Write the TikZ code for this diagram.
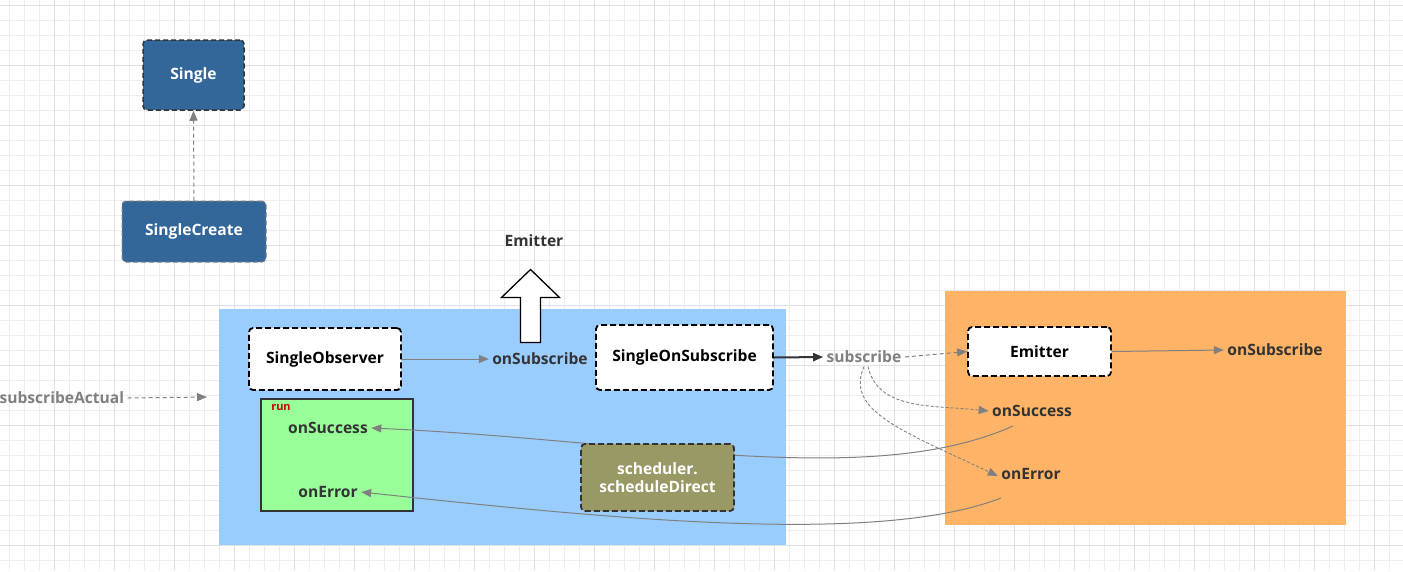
\documentclass[tikz,border=0pt]{standalone}
\usepackage{fontspec}
\setmainfont{Open Sans}
\usetikzlibrary{arrows.meta}
\definecolor{ink}{HTML}{333333}
\definecolor{wire}{HTML}{808080}
\definecolor{steel}{HTML}{336699}
\definecolor{skyfill}{HTML}{99CCFF}
\definecolor{amber}{HTML}{FFB366}
\definecolor{mint}{HTML}{99FF99}
\definecolor{olive}{HTML}{999966}
\definecolor{gridminor}{HTML}{EDEDED}
\definecolor{gridmajor}{HTML}{E0E0E0}
\tikzset{
  tip/.style={-{Triangle[length=10pt,width=8pt]}},
  wirearrow/.style={tip, draw=wire, line width=1pt},
  dashwire/.style={wirearrow, dash pattern=on 4pt off 3pt},
  finewire/.style={tip, draw=wire, line width=0.9pt, dash pattern=on 3pt off 2pt},
  bigtext/.style={font=\bfseries\fontsize{15.6}{18.5}\selectfont},
  whitebox/.style={bigtext, draw=black, fill=white, line width=1.8pt, dash pattern=on 6pt off 3pt,
    rounded corners=4pt, text=black},
  bluebox/.style={bigtext, fill=steel, rounded corners=4pt,
    text=white, line width=1.5pt, dash pattern=on 5pt off 3pt},
  lbl/.style={bigtext, text=ink},
}
\begin{document}
\begin{tikzpicture}[x=1pt,y=-1pt]
\useasboundingbox (0,0) rectangle (1403,571);
\fill[white] (0,0) rectangle (1403,571);
% background grid
\foreach \gx in {9,24,...,1403} \draw[gridminor, line width=0.8pt] (\gx,0) -- (\gx,571);
\foreach \gy in {5,20,...,571} \draw[gridminor, line width=0.8pt] (0,\gy) -- (1403,\gy);
\foreach \gx in {54,114,...,1403} \draw[gridmajor, line width=0.9pt] (\gx,0) -- (\gx,571);
\foreach \gy in {5,65,...,571} \draw[gridmajor, line width=0.9pt] (0,\gy) -- (1403,\gy);

% containers
\fill[skyfill] (219,309) rectangle (786,545);
\fill[amber] (945,291) rectangle (1346,525);

% class boxes
\node[bluebox, draw=ink, minimum width=101pt, minimum height=70pt] (single) at (193.5,75) {Single};
\node[bluebox, draw=wire, line width=1pt, minimum width=144pt, minimum height=61pt] (create) at (194,231.5) {SingleCreate};
\draw[dashwire] (create.north) -- (single.south);

% hollow up arrow with its label
\node[lbl] (emitterTop) at (534,241) {Emitter};
\draw[black, fill=white, line width=1.3pt, line join=miter]
  (520.5,342.5) -- (520.5,297.5) -- (501.5,297.5) -- (530.5,269.5) -- (559.5,297.5)
  -- (540.5,297.5) -- (540.5,342.5) -- cycle;

% text labels
\node[lbl] (onSubA) at (540,359) {onSubscribe};
\node[lbl, text=wire] (subscribe) at (864,357) {subscribe};
\node[lbl] (onSubB) at (1275,350) {onSubscribe};
\node[lbl] (oSucc) at (1032,411) {onSuccess};
\node[lbl] (oErr) at (1031,474) {onError};
\node[lbl, text=wire, anchor=west] (subAct) at (-4,398) {subscribeActual};
\coordinate (blueEdge) at (207,397);

% callbacks flowing back into the run block
\coordinate (succFrom) at (1013,426);
\coordinate (errFrom) at (1001,498);

% run block
\node[draw=ink, fill=mint, line width=1.5pt, minimum width=152pt, minimum height=112pt] (runbox) at (337,455) {};
\node[text={rgb,255:red,204;green,0;blue,0}, font=\bfseries\fontsize{11}{13}\selectfont, inner sep=0pt] (runlbl) at (281,407) {run};
\node[lbl] (gSucc) at (328,428) {onSuccess};
\node[lbl] (gErr) at (328,492) {onError};

\draw[wirearrow] (succFrom) .. controls (870,490) and (640,440) .. (gSucc.east);
\draw[wirearrow] (errFrom) .. controls (880,545) and (620,520) .. (gErr.east);

% scheduler
\node[bigtext, draw=ink, fill=olive, line width=1.8pt, dash pattern=on 6pt off 3pt, rounded corners=4pt,
  minimum width=153pt, minimum height=67pt, align=center, text=white] (sched) at (657.5,477.5)
  {scheduler.\\[-1pt]scheduleDirect};

% observer / subscribe boxes
\node[whitebox, minimum width=152pt, minimum height=62pt] (observer) at (325,359) {SingleObserver};
\node[whitebox, minimum width=177pt, minimum height=65pt] (onsub) at (684.5,357.5) {SingleOnSubscribe};
\node[whitebox, minimum width=143pt, minimum height=49pt] (emitter) at (1039.5,351.5) {Emitter};

% connectors
\draw[wirearrow] (observer.east) -- (onSubA.west);
\draw[tip, draw=ink, line width=2pt] (onsub.east) -- (subscribe.west);
\draw[dashwire] (subscribe.east) -- (emitter.west);
\draw[wirearrow] (emitter.east) -- (onSubB.west);
\draw[dashwire] (subAct.east) -- (blueEdge);
\draw[finewire] ([xshift=4pt]subscribe.south) .. controls (878,410) and (930,405) .. (oSucc.west);
\draw[finewire] (subscribe.south) .. controls (845,410) and (900,430) .. ([yshift=-2pt]oErr.west);
\end{tikzpicture}
\end{document}
